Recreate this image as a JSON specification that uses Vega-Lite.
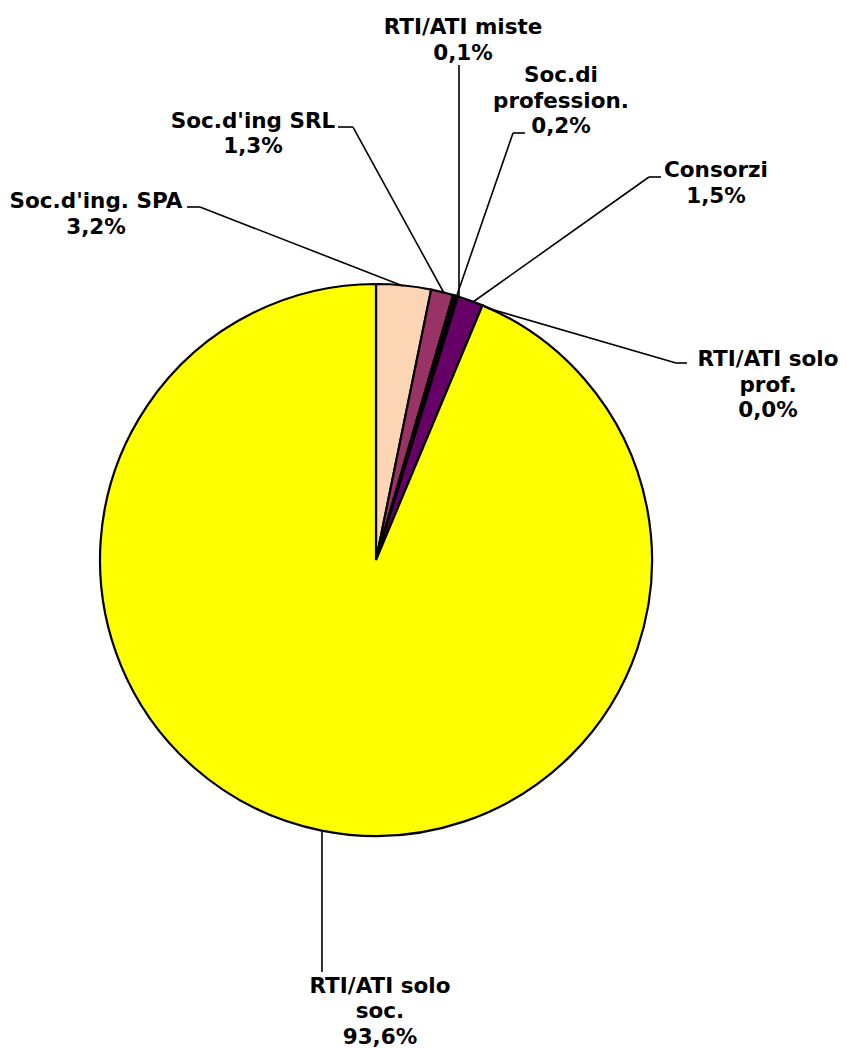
{
  "$schema": "https://vega.github.io/schema/vega-lite/v6.json",
  "autosize": {"type": "none"},
  "width": 552,
  "height": 552,
  "padding": {"left": 100, "top": 284, "right": 195, "bottom": 212},
  "background": "white",
  "config": {"view": {"stroke": null}},
  "datasets": {
    "slices": [
      {"name": "Soc.d'ing. SPA", "value": 3.2, "ord": 1},
      {"name": "Soc.d'ing SRL", "value": 1.3, "ord": 2},
      {"name": "RTI/ATI miste", "value": 0.1, "ord": 3},
      {"name": "Soc.di profession.", "value": 0.2, "ord": 4},
      {"name": "Consorzi", "value": 1.5, "ord": 5},
      {"name": "RTI/ATI solo prof.", "value": 0.0, "ord": 6},
      {"name": "RTI/ATI solo soc.", "value": 93.6, "ord": 7}
    ],
    "labels": [
      {"txt": "Soc.d'ing. SPA\n3,2%", "lx": -1.0145, "ly": 1.2971},
      {"txt": "Soc.d'ing SRL\n1,3%", "lx": -0.4457, "ly": 1.587},
      {"txt": "RTI/ATI miste\n0,1%", "lx": 0.3152, "ly": 1.9275},
      {"txt": "Soc.di\nprofession.\n0,2%", "lx": 0.6703, "ly": 1.7536},
      {"txt": "Consorzi\n1,5%", "lx": 1.2319, "ly": 1.4094},
      {"txt": "RTI/ATI solo\nprof.\n0,0%", "lx": 1.4203, "ly": 0.7246},
      {"txt": "RTI/ATI solo\nsoc.\n93,6%", "lx": 0.0145, "ly": -1.5471}
    ],
    "leaders": [
      {"x": -0.6848, "y": 1.279, "x2": -0.6377, "y2": 1.279},
      {"x": -0.6377, "y": 1.279, "x2": 0.0978, "y2": 0.9928},
      {"x": -0.1377, "y": 1.5688, "x2": -0.0833, "y2": 1.5688},
      {"x": -0.0833, "y": 1.5688, "x2": 0.2464, "y2": 0.9674},
      {"x": 0.3007, "y": 1.7935, "x2": 0.3007, "y2": 0.9565},
      {"x": 0.4964, "y": 1.5471, "x2": 0.5399, "y2": 1.5471},
      {"x": 0.4964, "y": 1.5471, "x2": 0.2935, "y2": 0.9601},
      {"x": 0.9891, "y": 1.3877, "x2": 1.0326, "y2": 1.3877},
      {"x": 0.9891, "y": 1.3877, "x2": 0.3514, "y2": 0.9348},
      {"x": 1.087, "y": 0.7138, "x2": 1.1268, "y2": 0.7138},
      {"x": 1.087, "y": 0.7138, "x2": 0.4022, "y2": 0.913},
      {"x": -0.1957, "y": -0.9783, "x2": -0.1957, "y2": -1.4928}
    ]
  },
  "layer": [
    {
      "data": {"name": "slices"},
      "mark": {"type": "arc", "outerRadius": 276, "stroke": "black", "strokeWidth": 2.2},
      "encoding": {
        "theta": {"field": "value", "type": "quantitative", "stack": true},
        "order": {"field": "ord", "type": "quantitative"},
        "color": {
          "field": "name",
          "type": "nominal",
          "legend": null,
          "scale": {
            "domain": ["Soc.d'ing. SPA", "Soc.d'ing SRL", "RTI/ATI miste", "Soc.di profession.", "Consorzi", "RTI/ATI solo prof.", "RTI/ATI solo soc."],
            "range": ["#FCD5B5", "#993366", "#FFFFCC", "#000000", "#660066", "#CC99FF", "#FFFF00"]
          }
        }
      }
    },
    {
      "data": {"name": "leaders"},
      "mark": {"type": "rule", "color": "black", "strokeWidth": 1.6},
      "encoding": {
        "x": {"field": "x", "type": "quantitative", "scale": {"domain": [-1, 1]}, "axis": null},
        "y": {"field": "y", "type": "quantitative", "scale": {"domain": [-1, 1]}, "axis": null},
        "x2": {"field": "x2"},
        "y2": {"field": "y2"}
      }
    },
    {
      "data": {"name": "labels"},
      "mark": {"type": "text", "font": "DejaVu Sans", "fontWeight": "bold", "fontSize": 21.5, "lineBreak": "\n", "lineHeight": 25.5, "align": "center", "baseline": "middle", "color": "black"},
      "encoding": {
        "x": {"field": "lx", "type": "quantitative", "scale": {"domain": [-1, 1]}, "axis": null},
        "y": {"field": "ly", "type": "quantitative", "scale": {"domain": [-1, 1]}, "axis": null},
        "text": {"field": "txt"}
      }
    }
  ],
  "resolve": {"scale": {"x": "shared", "y": "shared"}}
}
